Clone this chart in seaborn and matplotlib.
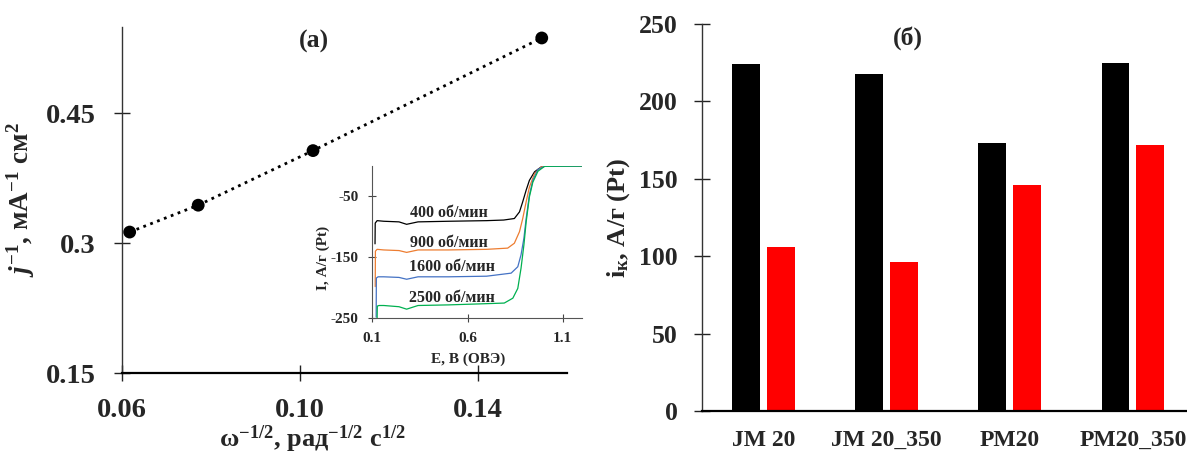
import numpy as np
import pandas as pd
import matplotlib
matplotlib.use("Agg")
import matplotlib.pyplot as plt
import seaborn as sns

# (a) Koutecky-Levich data
omega_inv_sqrt = [0.0618, 0.0772, 0.1030, 0.1544]
j_inv = [0.313, 0.344, 0.407, 0.537]

# inset: LSV curves, E (V vs RHE) and I (A/g Pt)
e_400 = [0.114, 0.115, 0.125, 0.16, 0.24, 0.28, 0.34, 0.50, 0.70, 0.79, 0.846, 0.873, 0.890, 0.908, 0.925, 0.952, 0.987, 1.01, 1.2]
i_400 = [-128, -94, -90, -91, -92, -96, -92, -91, -90, -89, -86.5, -75.6, -59, -40, -24, -10, -2, -0.5, -0.5]
e_900 = [0.115, 0.116, 0.125, 0.16, 0.24, 0.28, 0.34, 0.50, 0.70, 0.811, 0.846, 0.873, 0.890, 0.908, 0.925, 0.952, 0.987, 1.01, 1.2]
i_900 = [-198, -140, -137, -138, -139, -142, -138, -138, -137, -135, -127, -108, -86.5, -59, -35, -13, -2, -0.5, -0.5]
e_1600 = [0.120, 0.121, 0.130, 0.16, 0.24, 0.28, 0.34, 0.50, 0.70, 0.829, 0.864, 0.881, 0.896, 0.908, 0.925, 0.943, 0.970, 1.005, 1.2]
i_1600 = [-248, -184, -182, -182, -183, -186, -182, -182, -181, -176, -165.5, -146, -119, -86.5, -48, -24, -6, -1, -0.5]
e_2500 = [0.125, 0.126, 0.135, 0.16, 0.24, 0.28, 0.34, 0.50, 0.70, 0.793, 0.838, 0.864, 0.881, 0.896, 0.908, 0.925, 0.943, 0.970, 1.005, 1.2]
i_2500 = [-250, -230, -229, -229, -231, -235, -229, -228, -226, -225, -217, -201, -168, -130, -92, -51, -27, -9, -1, -0.5]
rpm_labels = ["400 об/мин", "900 об/мин", "1600 об/мин", "2500 об/мин"]
rpm_colors = ["#000000", "#ED7D31", "#4472C4", "#00B050"]

# (б) kinetic currents
samples = ["JM 20", "JM 20_350", "PM20", "PM20_350"]
ik_first = [224, 218, 173, 225]
ik_second = [106, 96, 146, 172]

sns.set_style("white")
plt.rcParams["font.family"] = ["Liberation Serif", "DejaVu Serif"]
plt.rcParams["font.weight"] = "bold"
plt.rcParams["axes.labelweight"] = "bold"
plt.rcParams["mathtext.fontset"] = "custom"
plt.rcParams["mathtext.rm"] = "Liberation Serif:bold"
plt.rcParams["mathtext.it"] = "Liberation Serif:italic:bold"
plt.rcParams["mathtext.bf"] = "Liberation Serif:bold"

fig = plt.figure(figsize=(11.87, 4.55), dpi=100)

# ---- panel (a)
ax1 = fig.add_axes([0.1025, 0.1796, 0.3749, 0.7617])
sns.lineplot(x=omega_inv_sqrt, y=j_inv, ax=ax1, color="black",
             linewidth=2, linestyle=(0, (1, 1.65)))
sns.scatterplot(x=omega_inv_sqrt, y=j_inv, ax=ax1, color="black",
                s=85, edgecolor="none", zorder=5)
ax1.set_xlim(0.06, 0.16)
ax1.set_ylim(0.15, 0.55)
ax1.set_xticks([0.06, 0.10, 0.14], ["0.06", "0.10", "0.14"])
ax1.set_yticks([0.15, 0.3, 0.45], ["0.15", "0.3", "0.45"])
ax1.tick_params(bottom=True, left=True, direction="inout", length=11,
                width=1, labelsize=20.5, pad=13.5, color="#222222")
ax1.tick_params(axis="x", pad=12)
for s in ["top", "right"]:
    ax1.spines[s].set_visible(False)
ax1.spines["left"].set_linewidth(1.0)
ax1.spines["left"].set_color("#333333")
ax1.spines["bottom"].set_linewidth(1.6)
ax1.spines["bottom"].set_color("black")
ax1.set_xlabel("ω$^{-1/2}$, рад$^{-1/2}$ с$^{1/2}$", fontsize=19)
ax1.xaxis.set_label_coords(0.428, -0.146)
ax1.set_ylabel(r"$j^{-1}$, мА$^{-1}$ см$^{2}$", fontsize=19.5)
ax1.yaxis.set_label_coords(-0.19, 0.5)
fig.text(0.2641, 0.9099, "(а)", fontsize=18.5, ha="center", va="center")

# ---- inset
ax_in = fig.add_axes([0.3137, 0.3004, 0.1764, 0.3354])
curves = [(e_400, i_400), (e_900, i_900), (e_1600, i_1600), (e_2500, i_2500)]
for (e, i), c in zip(curves, rpm_colors):
    sns.lineplot(x=e, y=i, ax=ax_in, color=c, linewidth=0.9,
                 sort=False, estimator=None)
ax_in.set_xlim(0.1, 1.2)
ax_in.set_ylim(-250, 0)
ax_in.set_xticks([0.1, 0.6, 1.1], ["0.1", "0.6", "1.1"])
ax_in.set_yticks([-50, -150, -250], ["-50", "-150", "-250"])
ax_in.tick_params(bottom=True, left=True, direction="inout", length=6,
                  width=0.8, labelsize=11, pad=7, color="#444444")
for s in ["top", "right"]:
    ax_in.spines[s].set_visible(False)
for s in ["left", "bottom"]:
    ax_in.spines[s].set_linewidth(0.8)
    ax_in.spines[s].set_color("#555555")
ax_in.set_facecolor("none")
ax_in.set_xlabel("E, В (ОВЭ)", fontsize=11)
ax_in.xaxis.set_label_coords(0.457, -0.227)
ax_in.set_ylabel("I, А/г (Pt)", fontsize=11)
ax_in.yaxis.set_label_coords(-0.202, 0.395)
label_y = [-78, -127, -166.5, -217]
label_x = [0.30, 0.30, 0.29, 0.29]
for lx, ly, t in zip(label_x, label_y, rpm_labels):
    ax_in.text(lx, ly, t, fontsize=11.5, ha="left", va="center")

# ---- panel (б)
df = pd.DataFrame({
    "sample": samples * 2,
    "ik": ik_first + ik_second,
    "series": ["first"] * len(samples) + ["second"] * len(samples),
})
ax2 = fig.add_axes([0.5912, 0.0967, 0.4088, 0.8506])
sns.barplot(data=df, x="sample", y="ik", hue="series", ax=ax2,
            palette=["black", "red"], width=0.566, gap=0.21,
            saturation=1, linewidth=0, legend=False)
ax2.set_xlim(-0.5, 3.44)
ax2.set_ylim(0, 250)
ax2.set_yticks(np.arange(0, 251, 50))
ax2.tick_params(axis="y", left=True, direction="inout", length=12, width=1,
                labelsize=18.5, pad=11.5, color="#222222")
ax2.tick_params(axis="x", length=0, labelsize=17, pad=13.5)
for s in ["top", "right"]:
    ax2.spines[s].set_visible(False)
ax2.spines["left"].set_linewidth(1.0)
ax2.spines["left"].set_color("#333333")
ax2.spines["bottom"].set_linewidth(1.6)
ax2.spines["bottom"].set_color("black")
ax2.set_xlabel("")
ax2.set_ylabel(r"i$_{\mathrm{к}}$, А/г (Pt)", fontsize=19)
ax2.yaxis.set_label_coords(-0.1436, 0.5)
fig.text(0.765, 0.9165, "(б)", fontsize=18.5, ha="center", va="center")

fig.savefig("out.png", dpi=100)
